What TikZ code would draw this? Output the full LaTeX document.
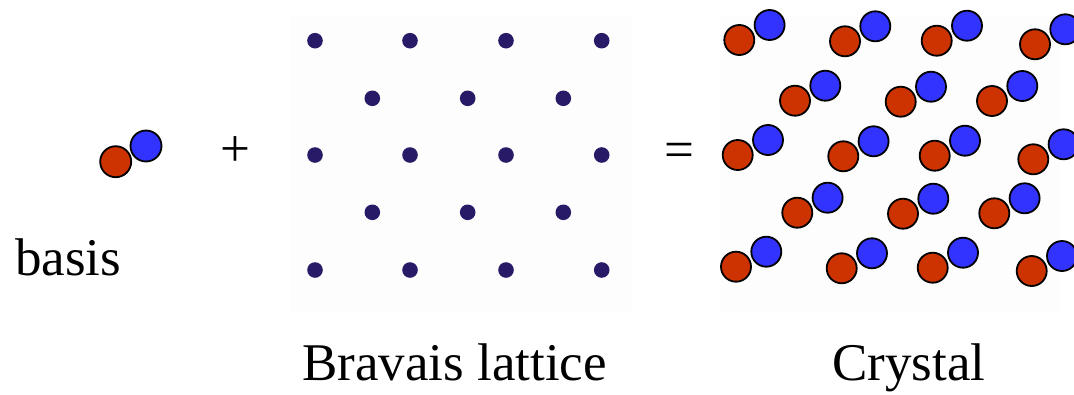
\documentclass[tikz,border=0pt]{standalone}
\usepackage{fontspec}
\setmainfont{Liberation Serif}
\definecolor{atomred}{RGB}{204,51,0}
\definecolor{atomblue}{RGB}{51,51,255}
\definecolor{latdot}{RGB}{40,26,102}
\definecolor{panelbg}{RGB}{253,253,253}
\tikzset{
  redatom/.style={draw=black,line width=1.8pt,fill=atomred},
  blueatom/.style={draw=black,line width=1.8pt,fill=atomblue},
  latticedot/.style={fill=latdot},
  label/.style={inner sep=0pt,font=\fontsize{53}{62}\selectfont}
}
\begin{document}
\begin{tikzpicture}[x=1pt,y=-1pt]
\useasboundingbox (0,0) rectangle (1074,394);
\clip (0,0) rectangle (1074,394);
\fill[white] (0,0) rectangle (1074,394);
% faint panel backgrounds
\fill[panelbg] (290,17) rectangle (632,313);
\fill[panelbg] (720,17) rectangle (1060,313);
% basis molecule
\draw[redatom] (115.7,161.7) circle[radius=15.5pt];
\draw[blueatom] (146,146) circle[radius=15.5pt];
% Bravais lattice
\foreach \x in {315,410,506,601.7}
  \foreach \y in {40.7,155,270}
    \fill[latticedot] (\x,\y) circle[radius=7.8pt];
\foreach \x in {372.3,467.7,563.3}
  \foreach \y in {98.3,212.3}
    \fill[latticedot] (\x,\y) circle[radius=7.8pt];
% Crystal
\foreach \x/\y in {739.3/40,845/41.3,936.7/40.7,1035/44.3,
                   795/100.7,900.7/101.7,992/101,
                   737.7/155,843.3/156.3,934.7/155.7,1033.3/159.3,
                   797.3/212.7,903/213.7,994.3/213.3,
                   736/266.7,841.7/268.3,932.7/267.7,1031.7/271}{
  \draw[redatom] (\x,\y) circle[radius=15pt];
  \draw[blueatom] (\x+30.3,\y-15) circle[radius=15pt];
}
% texts
\node[label,anchor=base west] (basis) at (15,275) {basis};
\node[label,anchor=base] (plus) at (235,166.5) {+};
\node[label,anchor=base] (equals) at (679,167) {=};
\node[label,anchor=base west] (bravais) at (302,380) {Bravais lattice};
\node[label,anchor=base west] (crystal) at (832,380) {Crystal};
\end{tikzpicture}
\end{document}
